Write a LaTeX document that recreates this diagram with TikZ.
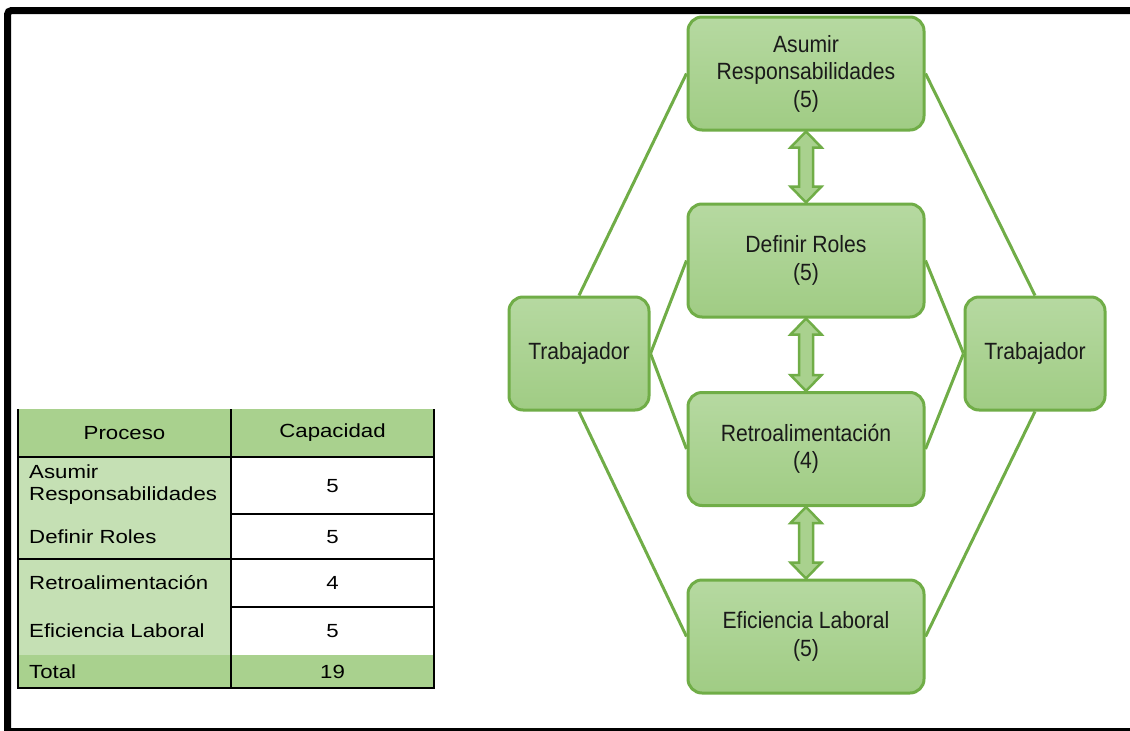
\documentclass[tikz,border=0pt]{standalone}
\usepackage{fontspec}
\setmainfont{Liberation Sans}
\newfontfamily\dfont[FakeStretch=0.9]{Liberation Sans}
\newfontfamily\tfont[FakeStretch=1.17]{Liberation Sans}
\usetikzlibrary{calc}
\definecolor{gline}{HTML}{70AD47}
\definecolor{gtop}{HTML}{B6D9A1}
\definecolor{gbot}{HTML}{A0CC84}
\definecolor{ghead}{HTML}{A9D18E}
\definecolor{gcell}{HTML}{C5E0B4}
\definecolor{garrow}{HTML}{A9D18E}
\definecolor{txt}{HTML}{1A1A1A}
\tikzset{
  gbox/.style={draw=gline, line width=3pt, rounded corners=14pt, top color=gtop, bottom color=gbot,
    minimum width=236pt, minimum height=113pt, align=center, text=txt,
    font=\dfont\fontsize{23.5}{27.5}\selectfont, inner sep=0pt},
  wbox/.style={gbox, minimum width=140pt},
  glink/.style={draw=gline, line width=3pt},
  dblarr/.style={draw=gline, line width=2.5pt, fill=garrow, line join=miter},
  tcell/.style={font=\tfont\fontsize{19}{22}\selectfont, text=black, inner sep=0pt},
  tline/.style={draw=black, line width=1.5pt}
}
\newcommand{\darrow}[2]{%
  \draw[dblarr] (#1.south) -- ($(#1.south)+(15.5,16)$) -- ($(#1.south)+(7,16)$)
    -- ($(#2.north)+(7,-16)$) -- ($(#2.north)+(15.5,-16)$) -- (#2.north)
    -- ($(#2.north)+(-15.5,-16)$) -- ($(#2.north)+(-7,-16)$)
    -- ($(#1.south)+(-7,16)$) -- ($(#1.south)+(-15.5,16)$) -- cycle;}
\begin{document}
\begin{tikzpicture}[x=1pt,y=-1pt]
\useasboundingbox (0,0) rectangle (1130,731);
\fill[white] (0,0) rectangle (1130,731);
% frame
\draw[black, line width=7pt, rounded corners=4pt] (7.5,731) -- (7.5,10.5) -- (1130,10.5);
\draw[black, line width=3pt] (4,729.5) -- (1130,729.5);

% diagram nodes
\node[gbox] (a) at (806,73.5) {Asumir\\Responsabilidades\\(5)};
\node[gbox] (d) at (806,260.5) {Definir Roles\\(5)};
\node[gbox] (r) at (806,449) {Retroalimentación\\(4)};
\node[gbox] (e) at (806,636.5) {Eficiencia Laboral\\(5)};
\node[wbox] (tl) at (579,353.5) {Trabajador};
\node[wbox] (tr) at (1035,353.5) {Trabajador};

% connectors
\draw[glink] (tl.north) -- (a.west);
\draw[glink] (tr.north) -- (a.east);
\draw[glink] (tl.south) -- (e.west);
\draw[glink] (tr.south) -- (e.east);
\draw[glink] (tl.east) -- (d.west);
\draw[glink] (tl.east) -- (r.west);
\draw[glink] (tr.west) -- (d.east);
\draw[glink] (tr.west) -- (r.east);

\darrow{a}{d}
\darrow{d}{r}
\darrow{r}{e}

% table
\fill[ghead] (18,409) rectangle (434,457);
\fill[gcell] (18,457) rectangle (231,655);
\fill[ghead] (18,655) rectangle (434,688);
\draw[tline] (18,409) -- (18,688) -- (434,688) -- (434,409);
\draw[tline] (231,409) -- (231,688);
\draw[tline] (18,457) -- (434,457);
\draw[tline] (18,559) -- (434,559);
\draw[tline] (231,514) -- (434,514);
\draw[tline] (231,607) -- (434,607);

\node[tcell] (h1) at (124.5,433) {Proceso};
\node[tcell] (h2) at (332.5,433) {Capacidad};
\node[tcell, anchor=west, align=left] (p1) at (29,485) {Asumir\\Responsabilidades};
\node[tcell] (c1) at (332.5,486) {5};
\node[tcell, anchor=west] (p2) at (29,537) {Definir Roles};
\node[tcell] (c2) at (332.5,537) {5};
\node[tcell, anchor=west] (p3) at (29,583) {Retroalimentación};
\node[tcell] (c3) at (332.5,583) {4};
\node[tcell, anchor=west] (p4) at (29,631) {Eficiencia Laboral};
\node[tcell] (c4) at (332.5,631) {5};
\node[tcell, anchor=west] (p5) at (29,672) {Total};
\node[tcell] (c5) at (332.5,672) {19};
\end{tikzpicture}
\end{document}
